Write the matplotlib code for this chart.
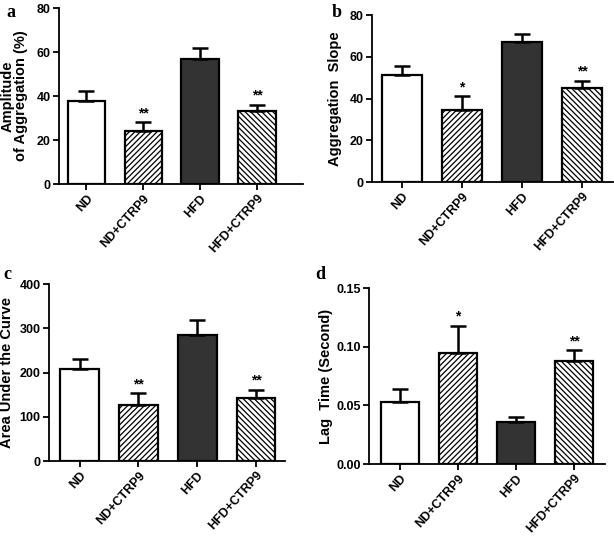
import matplotlib
matplotlib.use('AGG')
import matplotlib.pyplot as plt

groups = ['ND', 'ND+CTRP9', 'HFD', 'HFD+CTRP9']

amp_mean = [38, 24, 57, 33]
amp_top = [42.5, 28, 62, 36]
amp_sig = ['', '**', '', '**']

slope_mean = [51.5, 34.5, 67, 45]
slope_top = [55.5, 41, 71, 48.5]
slope_sig = ['', '*', '', '**']

auc_mean = [208, 126, 285, 142]
auc_top = [230, 153, 318, 161]
auc_sig = ['', '**', '', '**']

lag_mean = [0.053, 0.095, 0.036, 0.088]
lag_top = [0.064, 0.118, 0.040, 0.097]
lag_sig = ['', '*', '', '**']

plt.rcParams['font.family'] = ['Liberation Sans', 'DejaVu Sans']
plt.rcParams['hatch.linewidth'] = 0.9

fig = plt.figure(figsize=(6.14, 5.36), dpi=100)

faces = ['white', 'white', '#333333', 'white']
hatches = [None, '//////', None, '\\\\\\\\\\\\']


def panel(rect, means, tops, sig, ymax, yticks, ylabel, label_x, letter, letter_xy, xlim, fmt):
    ax = fig.add_axes(rect)
    x = list(range(len(groups)))
    errs = [t - m for t, m in zip(tops, means)]
    for i in x:
        ax.bar(i, means[i], width=0.66, color=faces[i], edgecolor='black',
               linewidth=1.6, hatch=hatches[i], zorder=2)
        ax.errorbar(i, means[i], yerr=[[0], [errs[i]]], color='black',
                    elinewidth=1.8, capsize=6, capthick=1.8, zorder=3)
        if sig[i]:
            ax.text(i, tops[i] + ymax * 0.012, sig[i], ha='center', va='bottom',
                    fontsize=10, fontweight='bold')
    ax.set_xlim(*xlim)
    ax.set_ylim(0, ymax)
    ax.set_yticks(yticks)
    ax.set_yticklabels([fmt.format(v) for v in yticks], fontsize=9, fontweight='bold')
    ax.set_xticks(x)
    ax.set_xticklabels(groups, rotation=48, ha='right', rotation_mode='anchor',
                       fontsize=9, fontweight='bold')
    ax.set_ylabel(ylabel, fontsize=10.5, fontweight='bold', linespacing=0.95)
    ax.yaxis.set_label_coords(label_x, 0.5)
    for s in ['top', 'right']:
        ax.spines[s].set_visible(False)
    for s in ['left', 'bottom']:
        ax.spines[s].set_linewidth(1.3)
    ax.tick_params(width=1.3, length=4, pad=2)
    fig.text(letter_xy[0], letter_xy[1], letter, fontsize=13, fontweight='bold',
             family='Liberation Serif', va='center')
    return ax


panel([0.0961, 0.6567, 0.397, 0.328], amp_mean, amp_top, amp_sig, 80,
      [0, 20, 40, 60, 80], 'Amplitude\nof Aggregation (%)', -0.127, 'a', (0.010, 0.976),
      (-0.48, 3.8), '{:g}')
panel([0.606, 0.6604, 0.3925, 0.3116], slope_mean, slope_top, slope_sig, 80,
      [0, 20, 40, 60, 80], 'Aggregation  Slope', -0.124, 'b', (0.541, 0.977),
      (-0.5, 3.52), '{:g}')
panel([0.0798, 0.1399, 0.384, 0.330], auc_mean, auc_top, auc_sig, 400,
      [0, 100, 200, 300, 400], 'Area Under the Curve', -0.148, 'c', (0.006, 0.487),
      (-0.52, 3.49), '{:g}')
panel([0.601, 0.1343, 0.384, 0.328], lag_mean, lag_top, lag_sig, 0.15,
      [0, 0.05, 0.10, 0.15], 'Lag  Time (Second)', -0.153, 'd', (0.513, 0.487),
      (-0.53, 3.53), '{:.2f}')

fig.savefig('out.png', dpi=100)
plt.close(fig)
